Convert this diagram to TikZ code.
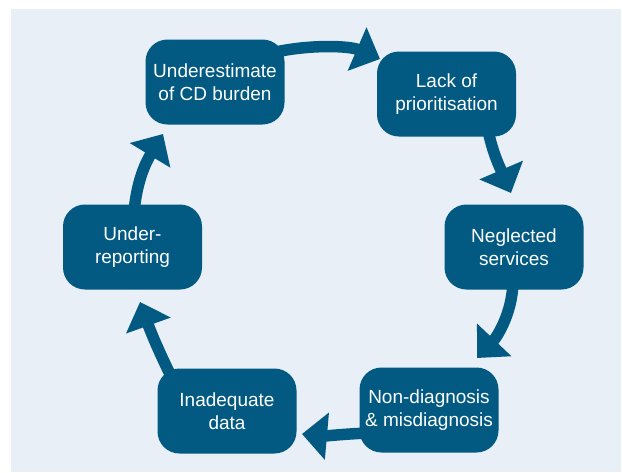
\documentclass[tikz,border=0pt]{standalone}
\usepackage{fontspec}
\setmainfont{Liberation Sans}
\usetikzlibrary{arrows.meta,calc}
\definecolor{boxblue}{RGB}{2,90,130}
\definecolor{bgblue}{RGB}{232,239,246}
\begin{document}
\begin{tikzpicture}[x=1pt,y=-1pt,
  cyclebox/.style={draw=none,fill=boxblue,rounded corners=22pt,
    minimum width=139pt,minimum height=85pt,text=white,align=center,
    font=\fontsize{19}{23}\selectfont,inner sep=2pt},
  cyclearrow/.style={draw=boxblue,line width=11.5pt,
    -{Triangle[length=25pt,width=46pt]}}]
\useasboundingbox (0,0) rectangle (622,472);
\fill[white] (0,0) rectangle (622,472);
\fill[bgblue] (11,9) rectangle (621,472);

\node[cyclebox] (b1) at (215,82) {Underestimate\\of CD burden};
\node[cyclebox] (b2) at (446.5,94) {Lack of\\prioritisation};
\node[cyclebox] (b3) at (514,247) {Neglected\\services};
\node[cyclebox] (b4) at (429,410) {Non-diagnosis\\\& misdiagnosis};
\node[cyclebox] (b5) at (227,411) {Inadequate\\data};
\node[cyclebox] (b6) at (132.5,247) {Under-\\reporting};

\coordinate (t1) at (380,59);
\coordinate (t2) at (511,193);
\coordinate (t3) at (477,358);
\coordinate (t4) at (302,434);
\coordinate (t5) at (140,302);
\coordinate (t6) at (163,134);

\draw[cyclearrow] ($(b1.north east)+(-12.5,13.5)$) .. controls (310,44) and (350,46) .. (t1);
\draw[cyclearrow] ($(b2.south)+(41.5,-6.5)$) .. controls (493,155) and (502,172) .. (t2);
\draw[cyclearrow] ($(b3.south)+(-1,-7.5)$) .. controls (512,315) and (496,338) .. (t3);
\draw[cyclearrow] ($(b4.west)+(8.5,23)$) .. controls (345,434) and (325,436) .. (t4);
\draw[cyclearrow] ($(b5.north west)+(15.5,11.5)$) .. controls (158,350) and (150,330) .. (t5);
\draw[cyclearrow] ($(b6.north)+(1.5,7.5)$) .. controls (137,180) and (146,162) .. (t6);
\end{tikzpicture}
\end{document}
